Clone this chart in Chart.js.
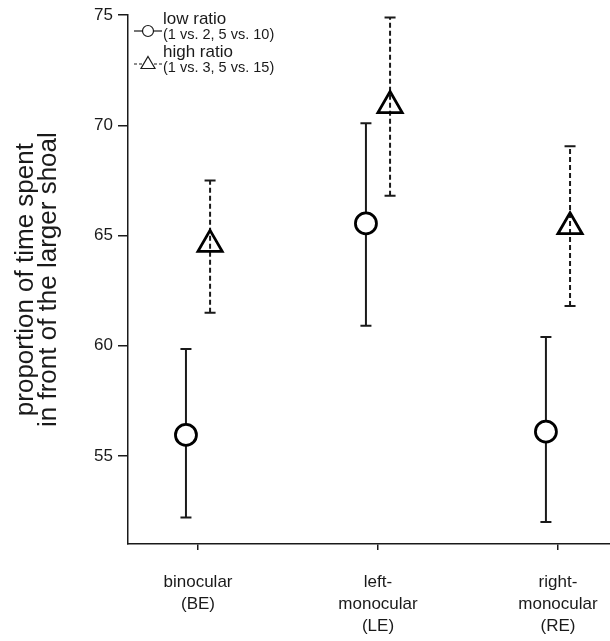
<!DOCTYPE html>
<html>
<head>
<meta charset="utf-8">
<script src="https://cdn.jsdelivr.net/npm/chart.js@4.4.1/dist/chart.umd.min.js"></script>
<style>
    html, body { margin: 0; padding: 0; background: #fff; }
    #wrap { width: 610px; height: 641px; }
</style>
</head>
<body>
<div id="wrap"><canvas id="chart" width="610" height="641"></canvas></div>
<script>
const categories = [['binocular', '(BE)'], ['left-', 'monocular', '(LE)'], ['right-', 'monocular', '(RE)']];
const lowMean = [55.95, 65.55, 56.1];
const lowLower = [52.2, 60.9, 52.0];
const lowUpper = [59.85, 70.1, 60.4];
const highMean = [64.6, 70.9, 65.4];
const highLower = [61.5, 66.8, 61.8];
const highUpper = [67.5, 74.9, 69.05];
const yTicks = [55, 60, 65, 70, 75];
const legendNames = ['low ratio', 'high ratio'];
const legendNotes = ['(1 vs. 2, 5 vs. 10)', '(1 vs. 3, 5 vs. 15)'];

const FONT = "'Liberation Sans', Arial, sans-serif";
const INK = '#1a1a1a';
const dodge = 0.067;

// error bars drawn under the markers
const errorBars = {
    id: 'errorBars',
    beforeDatasetsDraw(chart) {
        const ctx = chart.ctx;
        const xs = chart.scales.x, ys = chart.scales.y;
        const sets = [
            { lo: lowLower, hi: lowUpper, off: -dodge, dash: [] },
            { lo: highLower, hi: highUpper, off: dodge, dash: [5, 3] }
        ];
        sets.forEach(s => {
            s.lo.forEach((v, i) => {
                const x = xs.getPixelForValue(i + 1 + s.off);
                const y1 = ys.getPixelForValue(v);
                const y2 = ys.getPixelForValue(s.hi[i]);
                ctx.save();
                ctx.strokeStyle = INK;
                ctx.lineWidth = 2;
                ctx.setLineDash(s.dash);
                ctx.beginPath();
                ctx.moveTo(x, y1);
                ctx.lineTo(x, y2);
                ctx.stroke();
                ctx.setLineDash([]);
                ctx.beginPath();
                ctx.moveTo(x - 5.5, y1); ctx.lineTo(x + 5.5, y1);
                ctx.moveTo(x - 5.5, y2); ctx.lineTo(x + 5.5, y2);
                ctx.stroke();
                ctx.restore();
            });
        });
    }
};

// small legend in the top left corner of the plot
const cornerLegend = {
    id: 'cornerLegend',
    afterDraw(chart) {
        const ctx = chart.ctx;
        const left = chart.chartArea.left;
        const rows = [
            { y: 31, dash: [], shape: 'circle' },
            { y: 64, dash: [3, 2], shape: 'triangle' }
        ];
        rows.forEach((r, i) => {
            ctx.save();
            ctx.strokeStyle = INK;
            ctx.lineWidth = 1.2;
            ctx.setLineDash(r.dash);
            ctx.beginPath();
            ctx.moveTo(left + 6, r.y);
            ctx.lineTo(left + 34, r.y);
            ctx.stroke();
            ctx.setLineDash([]);
            ctx.fillStyle = '#fff';
            ctx.beginPath();
            const cx = left + 20;
            if (r.shape === 'circle') {
                ctx.arc(cx, r.y, 5.5, 0, Math.PI * 2);
            } else {
                ctx.moveTo(cx, r.y - 7.5);
                ctx.lineTo(cx + 7, r.y + 4.5);
                ctx.lineTo(cx - 7, r.y + 4.5);
                ctx.closePath();
            }
            ctx.fill();
            ctx.stroke();
            ctx.fillStyle = INK;
            ctx.textBaseline = 'middle';
            ctx.font = '17px ' + FONT;
            ctx.fillText(legendNames[i], left + 35, r.y - 12);
            ctx.font = '14.5px ' + FONT;
            ctx.fillText(legendNotes[i], left + 35, r.y + 4);
            ctx.restore();
        });
    }
};

const ctx = document.getElementById('chart').getContext('2d');
new Chart(ctx, {
    type: 'scatter',
    data: {
        datasets: [{
            label: legendNames[0],
            data: lowMean.map((v, i) => ({ x: i + 1 - dodge, y: v })),
            pointStyle: 'circle',
            pointRadius: 10.5,
            pointBorderWidth: 2.8,
            pointBorderColor: '#000',
            pointBackgroundColor: '#fff'
        }, {
            label: legendNames[1],
            data: highMean.map((v, i) => ({ x: i + 1 + dodge, y: v })),
            pointStyle: 'triangle',
            pointRadius: 14,
            pointBorderWidth: 2.8,
            pointBorderColor: '#000',
            pointBackgroundColor: 'rgba(0,0,0,0)'
        }]
    },
    options: {
        responsive: false,
        animation: false,
        events: [],
        layout: { autoPadding: false, padding: { top: 15, right: 0, left: 0, bottom: 0 } },
        plugins: {
            legend: { display: false },
            tooltip: { enabled: false }
        },
        scales: {
            x: {
                type: 'linear',
                min: 0.611,
                max: 3.289,
                afterBuildTicks: s => { s.ticks = categories.map((c, i) => ({ value: i + 1 })); },
                afterFit: s => { s.height = 97; s.paddingRight = 0; s.paddingLeft = 0; },
                grid: { drawOnChartArea: false, drawTicks: true, tickLength: 6, color: INK, lineWidth: 1.5 },
                border: { display: true, color: INK, width: 1.5 },
                ticks: {
                    padding: 21,
                    color: INK,
                    font: { family: FONT, size: 17, lineHeight: 1.3 },
                    maxRotation: 0,
                    callback: v => categories[Math.round(v) - 1]
                }
            },
            y: {
                min: 51,
                max: 75,
                afterBuildTicks: s => { s.ticks = yTicks.map(v => ({ value: v })); },
                afterFit: s => { s.width = 128; },
                grid: { drawOnChartArea: false, drawTicks: true, tickLength: 10, color: INK, lineWidth: 1.5 },
                border: { display: true, color: INK, width: 1.5 },
                ticks: {
                    padding: 5,
                    color: INK,
                    font: { family: FONT, size: 17 }
                },
                title: {
                    display: true,
                    text: ['proportion of time spent', 'in front of the larger shoal'],
                    color: INK,
                    font: { family: FONT, size: 26, lineHeight: 0.9 },
                    padding: { top: 14, bottom: 0 }
                }
            }
        }
    },
    plugins: [errorBars, cornerLegend]
});
</script>
</body>
</html>
